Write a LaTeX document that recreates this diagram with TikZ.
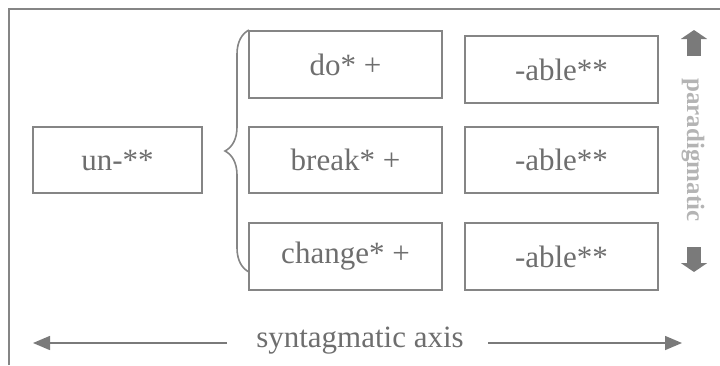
\documentclass[tikz,border=0pt]{standalone}
\usepackage{fontspec}
\setmainfont{Liberation Serif}
\usetikzlibrary{arrows.meta,decorations.pathreplacing}

\definecolor{linegray}{HTML}{858585}
\definecolor{textgray}{HTML}{6E6E6E}
\definecolor{arrowgray}{HTML}{7A7A7A}
\definecolor{lightgray}{HTML}{B4B4B4}

\begin{document}
\begin{tikzpicture}[x=1pt, y=-1pt,
		morph/.style={draw=linegray, line width=1.2pt, text=textgray, minimum height=66pt, inner sep=0pt, font=\fontsize{31}{36}\selectfont},
		axisarrow/.style={draw=arrowgray, line width=1.5pt, -{Triangle[length=17pt,width=14pt]}},
		blockarrow/.style={draw=arrowgray, line width=14pt, -{Triangle[length=9pt,width=26pt]}}]
		\useasboundingbox (0, 0) rectangle (720, 365);
		\draw[linegray, line width=1.5pt] (9, 365) -- (9, 9) -- (720, 9);
		% morphemes
		\node[morph, minimum width=169pt] (un) at (117.5, 160) {un-**};
		\node[morph, minimum width=193pt, minimum height=67pt] (do) at (345.5, 64.5) {do* +};
		\node[morph, minimum width=193pt] (break) at (345.5, 160) {break* +};
		\node[morph, minimum width=193pt, minimum height=67pt] (change) at (345.5, 256.5) {change* +};
		\node[morph, minimum width=193pt, minimum height=67pt] (able1) at (561.5, 69.5) {-able**};
		\node[morph, minimum width=193pt] (able2) at (561.5, 160) {-able**};
		\node[morph, minimum width=193pt, minimum height=67pt] (able3) at (561.5, 256.5) {-able**};
		% brace
		\coordinate (brTop) at (249, 30);
		\coordinate (brBot) at (249, 272);
		\draw[linegray, line width=1.6pt, decorate, decoration={brace, amplitude=24pt}] (brBot) -- (brTop);
		% paradigmatic axis
		\node[rotate=-90, text=lightgray, font=\fontsize{25}{30}\selectfont\bfseries] (para) at (693, 150) {paradigmatic};
		\coordinate (upS) at (694, 56);
		\coordinate (upE) at (694, 30);
		\coordinate (dnS) at (694, 247);
		\coordinate (dnE) at (694, 272);
		\draw[blockarrow] (upS) -- (upE);
		\draw[blockarrow] (dnS) -- (dnE);
		% syntagmatic axis
		\node[anchor=base, text=textgray, font=\fontsize{31}{36}\selectfont] (syn) at (360, 347) {syntagmatic axis};
		\coordinate (synLS) at (227, 343);
		\coordinate (synLE) at (33, 343);
		\coordinate (synRS) at (488, 343);
		\coordinate (synRE) at (682, 343);
		\draw[axisarrow] (synLS) -- (synLE);
		\draw[axisarrow] (synRS) -- (synRE);
	\end{tikzpicture}
\end{document}
